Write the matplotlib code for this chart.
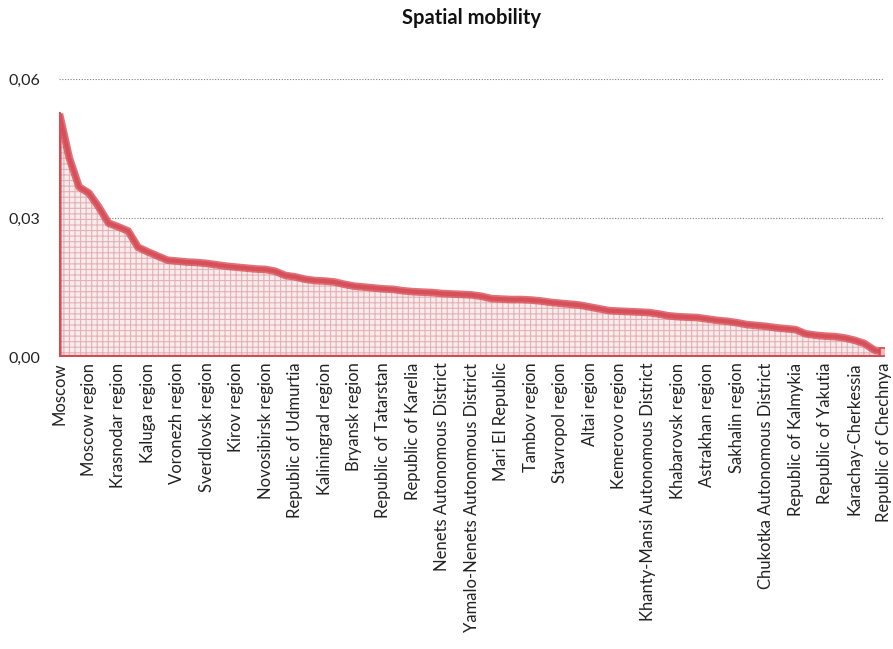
import matplotlib
matplotlib.use("Agg")
import matplotlib.pyplot as plt
from matplotlib.ticker import FuncFormatter

plt.rcParams["font.family"] = ["Lato", "DejaVu Sans"]
plt.rcParams["hatch.linewidth"] = 0.8

title = "Spatial mobility"

# Labels shown on the category axis (every third region)
tick_labels = [
    "Moscow", "Moscow region", "Krasnodar region", "Kaluga region",
    "Voronezh region", "Sverdlovsk region", "Kirov region",
    "Novosibirsk region", "Republic of Udmurtia", "Kaliningrad region",
    "Bryansk region", "Republic of Tatarstan", "Republic of Karelia",
    "Nenets Autonomous District", "Yamalo-Nenets Autonomous District",
    "Mari El Republic", "Tambov region", "Stavropol region", "Altai region",
    "Kemerovo region", "Khanty-Mansi Autonomous District", "Khabarovsk region",
    "Astrakhan region", "Sakhalin region", "Chukotka Autonomous District",
    "Republic of Kalmykia", "Republic of Yakutia", "Karachay-Cherkessia",
    "Republic of Chechnya",
]

# Spatial mobility index for 85 regions, sorted in descending order
mobility = [
    0.0525, 0.0430, 0.0367, 0.0354, 0.0324, 0.0289, 0.0281, 0.0272, 0.0237, 0.0227,
    0.0218, 0.0209, 0.0207, 0.0205, 0.0204, 0.0202, 0.0199, 0.0196, 0.0194, 0.0192,
    0.0190, 0.0189, 0.0185, 0.0176, 0.0173, 0.0168, 0.0165, 0.0164, 0.0162, 0.0157,
    0.0153, 0.0151, 0.0149, 0.0147, 0.0146, 0.0143, 0.0141, 0.0140, 0.0139, 0.0137,
    0.0136, 0.0135, 0.0134, 0.0131, 0.0126, 0.0125, 0.0124, 0.0124, 0.0123, 0.0121,
    0.0118, 0.0116, 0.0114, 0.0112, 0.0108, 0.0104, 0.0100, 0.0099, 0.0098, 0.0097,
    0.0096, 0.0093, 0.0089, 0.0087, 0.0086, 0.0085, 0.0082, 0.0079, 0.0077, 0.0074,
    0.0070, 0.0068, 0.0066, 0.0063, 0.0061, 0.0059, 0.0050, 0.0047, 0.0045, 0.0044,
    0.0041, 0.0036, 0.0029, 0.0015, 0.0010,
]

y_ticks = [0.0, 0.03, 0.06]

fig = plt.figure(figsize=(8.93, 6.49), dpi=100)
ax = fig.add_axes([0.0666, 0.450, 0.9234, 0.428])

x = list(range(len(mobility)))
# pale pink area with a fine cross-hatch (hatch takes the edge colour)
ax.fill_between(x, 0, mobility, facecolor="#f9eaeb", hatch="+++",
                edgecolor="#e2b2b6", linewidth=0, zorder=2)
# red border around the area
ax.fill_between(x, 0, mobility, facecolor="none",
                edgecolor="#d34c55", linewidth=3.0, zorder=2.5)
ax.plot(x, mobility, color="#d9525b", alpha=0.82, linewidth=5.5,
        solid_joinstyle="round", solid_capstyle="butt", zorder=3)
ax.plot([x[-1]], [mobility[-1]], marker="s", markersize=5.5,
        markerfacecolor="#efb9bd", markeredgecolor="#d24a53",
        markeredgewidth=1.2, zorder=4)

ax.set_xlim(0, len(mobility) - 1)
ax.set_ylim(0, 0.06)

ax.set_yticks(y_ticks)
ax.yaxis.set_major_formatter(FuncFormatter(lambda v, p: f"{v:.2f}".replace(".", ",")))
ax.grid(axis="y", linestyle=(0, (1, 1.5)), color="#7f7f7f", linewidth=0.8, zorder=1)

ax.set_xticks(list(range(0, len(mobility), 3)))
ax.set_xticklabels(tick_labels, rotation=90, ha="center", va="top")

ax.tick_params(axis="y", length=0, pad=14, labelsize=11.5, labelcolor="#222222")
ax.tick_params(axis="x", length=0, pad=4, labelsize=12, labelcolor="#222222")

for side in ("left", "right", "top", "bottom"):
    ax.spines[side].set_visible(False)

fig.text(0.0666 + 0.9234 / 2, 0.972, title, ha="center", va="center",
         fontsize=14.5, fontweight="bold", color="#111111")

fig.savefig("out.png", dpi=100)
